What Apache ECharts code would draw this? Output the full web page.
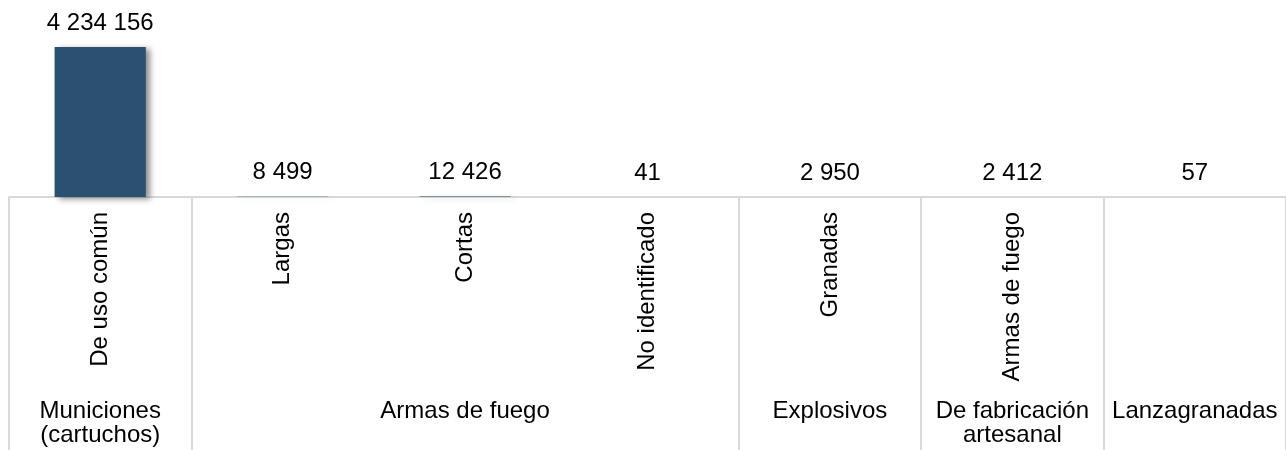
<!DOCTYPE html>
<html>
<head>
<meta charset="utf-8">
<script src="https://cdn.jsdelivr.net/npm/echarts@6/dist/echarts.min.js"></script>
<style>
  html, body { margin: 0; padding: 0; background: #ffffff; }
  #chart { width: 1286px; height: 450px; }
</style>
</head>
<body>
<div id="chart"></div>
<script>
// ---- data ----
const categories = ['De uso común', 'Largas', 'Cortas', 'No identificado', 'Granadas', 'Armas de fuego', ''];
const values = [4234156, 8499, 12426, 41, 2950, 2412, 57];
const groupLabels = ['Municiones\n(cartuchos)', '', 'Armas de fuego', '', 'Explosivos', 'De fabricación\nartesanal', 'Lanzagranadas'];
const groupStarts = [0, 1, 4, 5, 6];

const FONT = "'Liberation Sans', Arial, sans-serif";
const fmt = v => String(v).replace(/\B(?=(\d{3})+(?!\d))/g, ' ');

const chart = echarts.init(document.getElementById('chart'), null, { renderer: 'canvas' });
chart.setOption({
  animation: false,
  backgroundColor: '#ffffff',
  grid: { left: 9, right: -6, top: 20, bottom: 253, containLabel: false },
  xAxis: [
    {
      type: 'category',
      data: categories,
      position: 'bottom',
      boundaryGap: true,
      axisLine: { show: true, lineStyle: { color: '#d9d9d9', width: 2 } },
      axisTick: {
        show: true,
        alignWithLabel: false,
        interval: (i) => groupStarts.includes(i),
        length: 260,
        lineStyle: { color: '#d9d9d9', width: 2 }
      },
      axisLabel: {
        interval: 0,
        rotate: 90,
        margin: 15,
        color: '#000000',
        fontFamily: FONT,
        fontSize: 24
      },
      splitLine: { show: false }
    },
    {
      type: 'category',
      data: groupLabels,
      position: 'bottom',
      boundaryGap: true,
      axisLine: { show: false },
      axisTick: { show: false },
      axisLabel: {
        interval: 0,
        margin: 202,
        color: '#000000',
        fontFamily: FONT,
        fontSize: 24,
        lineHeight: 24,
        align: 'center'
      },
      splitLine: { show: false }
    }
  ],
  yAxis: { type: 'value', min: 0, max: 5000000, show: false, splitLine: { show: false } },
  series: [
    {
      type: 'bar',
      xAxisIndex: 0,
      data: values,
      barWidth: '50%',
      itemStyle: {
        color: '#2B5070',
        shadowColor: 'rgba(0,0,0,0.45)',
        shadowBlur: 6,
        shadowOffsetX: 4,
        shadowOffsetY: 2
      },
      label: {
        show: true,
        position: 'top',
        distance: 12,
        color: '#000000',
        fontFamily: FONT,
        fontSize: 24,
        formatter: p => fmt(p.value)
      }
    }
  ]
});
</script>
</body>
</html>
